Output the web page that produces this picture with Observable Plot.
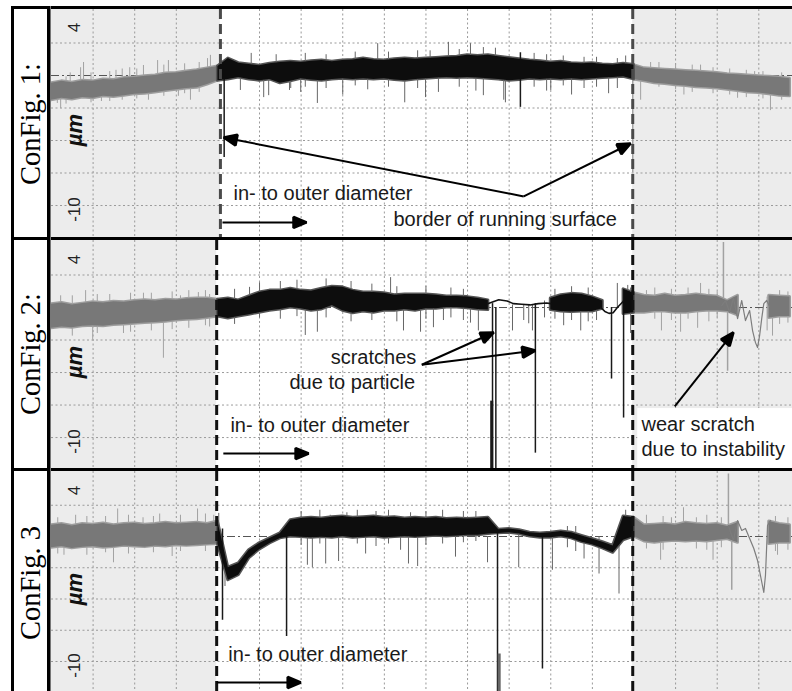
<!DOCTYPE html>
<html><head><meta charset="utf-8">
<script src="https://cdn.jsdelivr.net/npm/d3@7"></script>
<script src="https://cdn.jsdelivr.net/npm/@observablehq/plot@0.6"></script>
<style>
html,body{margin:0;padding:0;background:#fff;}
#root{position:relative;width:792px;height:691px;overflow:hidden;background:#fff;}
.panel{position:absolute;left:51px;}
.ln{position:absolute;background:#000;z-index:5;}
.lab{position:absolute;font-family:"Liberation Serif","Times New Roman",serif;font-size:28.5px;white-space:nowrap;transform:translate(-50%,-50%) rotate(-90deg);color:#000;line-height:1;}
</style></head><body><div id="root"></div>
<script>
// ---- sampling positions along the radius (grid units) ----
const G = [0,0.25,0.5,0.75,1,1.25,1.5,1.75,2,2.25,2.5,2.75,3,3.25,3.5,3.75,4,4.25,4.5,4.75,5,5.25,5.5,5.75,6,6.25,6.5,6.75,7,7.25,7.5,7.75,8,8.25,8.5,8.75,9,9.25,9.5,9.75,10,10.25,10.5,10.75,11,11.25,11.5,11.75,12,12.25,12.5,12.75,13,13.25,13.5,13.75,14,14.25,14.5,14.75,15,15.25,15.5,15.75,16,16.25,16.5,16.75,17,17.25,17.5,17.75];

const panelLabels = ["ConFig. 1:", "ConFig. 2:", "ConFig. 3"];
const yTickLabels = [4, -10];
const unitLabel = "\u00b5m";

// ---- ConFig. 1 ----
const p1Hi = [-0.6,-0.45,-0.55,-0.4,-0.45,-0.3,-0.35,-0.2,-0.15,-0.05,0.0,0.15,0.2,0.3,0.4,0.55,0.7, 1.3,0.95,0.85,0.75,0.9,1.0,1.05,1.0,1.1,1.15,1.05,1.15,1.2,1.3,1.2,1.15,1.25,1.3,1.25,1.3,1.35,1.4,1.45,1.55,1.5,1.55,1.45,1.35,1.25,1.15,1.1,1.0,1.05,0.95,0.9,0.95,0.85,0.8,0.9, 0.8,0.55,0.5,0.45,0.4,0.35,0.3,0.25,0.2,0.1,0.05,0.0,-0.05,-0.1,-0.15,-0.25];
const p1Lo = [-1.9,-1.75,-1.85,-1.7,-1.75,-1.6,-1.65,-1.55,-1.45,-1.4,-1.3,-1.2,-1.1,-1.0,-0.95,-0.7,-0.4, -0.3,-0.15,-0.3,-0.4,-0.3,-0.6,-0.45,-0.25,-0.35,-0.4,-0.3,-0.25,-0.3,-0.25,-0.3,-0.25,-0.35,-0.4,-0.3,-0.25,-0.2,-0.15,-0.2,-0.15,-0.2,-0.25,-0.3,-0.4,-0.35,-0.25,-0.3,-0.25,-0.3,-0.25,-0.3,-0.25,-0.2,-0.15,-0.1, -0.3,-0.45,-0.6,-0.65,-0.75,-0.8,-0.9,-0.95,-1.0,-1.1,-1.2,-1.3,-1.35,-1.45,-1.55,-1.6];
const p1Spikes = [[0.14,-1.0,-2.15],[0.22,-1.2,-2.55],[0.35,-0.1,-2.2],[0.45,0.2,-1.0],[0.70,0.6,-0.8],[0.77,1.0,-0.8],[0.95,0.2,-2.1],[1.2,-0.6,-2.0],[1.4,0.3,-2.0],[1.55,0.4,-0.5],[1.7,0.5,-1.9],[1.88,0.6,-0.6],[2.05,0.5,-1.8],[2.21,0.77,-0.5],[2.33,-0.5,-1.9],[2.55,1.15,-0.5],[2.7,0.8,-1.6],[2.81,1.15,-0.3],[3.05,-0.3,-1.6],[3.2,0.9,-1.4],[3.34,-0.5,-1.9],[3.55,1.0,-1.3],[3.75,1.3,0],[3.82,1.55,0],
 [4.15,0.0,-6.3],[4.54,0,-1.15],[4.8,1.7,0],[5.10,0,-1.7],[5.22,0,-1.55],[5.4,1.6,0],[5.72,0,-1.15],[5.75,0,-1.0],[5.99,0,-1.3],[6.1,1.7,-0.9],[6.39,0,-2.15],[6.6,1.6,-1.0],[7.0,0,-1.5],[7.3,1.8,-0.8],[7.6,0,-1.1],[7.84,2.45,0],[8.1,1.8,-0.9],[8.49,0,-2.1],[8.8,1.9,-1.0],[8.99,0,-1.7],[9.1,1.9,0],[9.3,0,-1.3],[9.54,2.55,0],[9.8,2.0,-0.9],[10.07,2.45,0],[10.2,0,-1.2],[10.38,2.15,-1.55],[10.67,2.1,0],[10.87,0,-1.9],[10.91,0,-2.1],[11.27,1.75,-2.45],[11.6,1.7,-0.9],[11.9,1.6,-1.2],[12.0,0,-1.15],[12.3,1.5,-0.8],[12.5,0,-1.5],[12.8,1.4,-1.0],[13.1,1.4,-0.9],[13.39,0,-1.4],[13.6,1.3,-1.0],[13.8,1.5,0],[13.97,0,-7.5],
 [14.16,-0.3,-1.9],[14.4,1.0,0],[14.6,1.0,-0.9],[15.0,0.9,-1.1],[15.2,-0.4,-1.5],[15.4,0.8,-1.3],[15.6,0.8,-0.2],[15.9,0.6,-1.4],[16.3,0.5,-1.5],[16.49,-0.5,-1.75],[16.7,0.4,-1.7],[16.9,0.3,-0.8],[17.1,0.3,-1.8],[17.28,-0.7,-2.7],[17.55,0.2,-1.9]];
const p1Traces = [];
const p1Borders = [4.06, 13.97];
const p1Notes = [{text:"in- to outer diameter", g:4.375, v:-9.08},{text:"border of running surface", g:8.22, v:-11.08}];
const p1Arrows = [[4.11,-11.3,6.13,-11.3],[11.35,-9.3,4.14,-4.77],[11.35,-9.3,13.92,-5.23]];

// ---- ConFig. 2 ----
const p2Hi = [0.25,0.35,0.2,0.3,0.4,0.35,0.45,0.4,0.5,0.55,0.5,0.6,0.55,0.65,0.7,0.7,0.6, 0.7,0.55,0.85,1.15,1.3,1.3,1.45,1.3,1.25,1.45,1.6,1.55,1.3,1.15,1.15,1.1,0.95,1.0,1.0,1.0,0.95,0.85,0.85,0.8,0.7,0.55, null,null,null,null,null, 0.7,0.95,1.05,1.0,0.8,0.5, null, 1.4, 1.1, 0.9,0.85,1.0,0.85,0.9,1.0,0.9,0.85, 0.5,0.9, null,null, 0.9,0.85,0.8];
const p2Lo = [-1.6,-1.5,-1.55,-1.45,-1.4,-1.45,-1.35,-1.3,-1.25,-1.2,-1.15,-1.1,-1.0,-0.95,-0.9,-0.8,-0.7, -0.85,-0.7,-0.55,-0.4,-0.25,-0.15,0.0,-0.1,-0.25,-0.15,0.15,-0.25,-0.45,-0.3,-0.4,-0.25,-0.25,-0.15,-0.25,-0.1,-0.1,0.0,0.0,-0.05,-0.15,-0.2, null,null,null,null,null, -0.2,-0.3,-0.35,-0.3,-0.3,-0.1, null, -0.5, -0.4, -0.4,-0.3,-0.3,-0.4,-0.4,-0.3,-0.25,-0.25, -0.3,-0.6, null,null, -0.8,-0.7,-0.7];
const p2Spikes = [[0.22,0.9,-1.2],[0.5,0.9,-2.2],[0.82,1.3,0],[0.99,-0.5,-2.5],[1.1,1.0,-2.0],[1.4,1.0,-0.5],[1.73,-0.5,-2.0],[1.9,1.1,-1.9],[2.21,1.1,0],[2.4,1.1,-1.8],[2.69,-0.5,-3.9],[2.9,1.2,-1.7],[3.1,0.9,0],[3.3,1.3,-1.6],[3.53,1.15,0],[3.7,1.3,-1.4],[3.8,1.0,-1.5],
 [4.4,1.4,-1.3],[4.76,1.55,0],[5.0,1.9,-0.8],[5.5,2.0,-0.9],[5.9,2.1,-0.7],[6.1,0,-2.15],[6.39,0,-1.9],[6.6,2.2,-0.8],[7.2,2.0,-1.1],[7.7,1.8,-1.0],[8.15,2.3,0],[8.3,1.6,-1.1],[8.46,0,-1.8],[8.87,0,-1.9],[9.0,1.6,-0.9],[9.18,0,-1.55],[9.42,0,-1.0],[9.6,1.5,-0.8],[9.9,1.4,-1.0],[10.07,0,-1.2],[10.26,0,-1.8],[10.6,0.3,-12.4],[10.58,-7.2,-12.4],[10.68,0.0,-12.4],[11.08,0.2,-1.8],[11.35,0.2,-1.0],[11.47,0.2,-1.25],[11.56,0.2,-1.8],[11.63,0.3,-11.2],[11.85,0.5,-0.8],[12.1,1.4,-0.9],[12.31,0,-1.4],[12.5,1.6,-1.0],[12.72,0,-1.8],[12.9,1.5,-1.1],[13.1,0,-1.0],[13.46,0,-5.5],[13.6,1.85,0],[13.75,0.5,-8.5],[13.85,1.7,0],[13.92,1.5,-2.0],
 [14.3,1.3,0],[14.5,1.5,-0.9],[14.66,-0.2,-1.8],[14.9,1.4,-1.0],[15.12,0,-1.9],[15.3,1.5,-0.9],[15.53,-0.2,-1.6],[15.6,1.85,0],[15.8,1.4,-1.1],[16.0,1.2,-0.8],[16.15,5.0,-0.3],[16.25,0.5,-4.9],[17.2,0.8,-1.8],[17.33,-0.2,-2.2],[17.5,1.3,-1.3],[17.7,1.2,-1.2]];
const p2Traces = [
 [[10.5,0.3],[10.75,0.6],[10.95,0.5],[11.1,0.3],[11.3,0.25],[11.5,0.2],[11.7,0.3],[11.9,0.35],[12.0,0.3]],
 [[13.2,0.0],[13.3,-0.3],[13.4,-0.45],[13.5,-0.4],[13.6,0.0],[13.75,0.5]],
 [[16.11,0.15],[16.2,0.54],[16.3,-0.38],[16.39,0.77],[16.49,-0.85],[16.59,0.54],[16.68,-1.0],[16.78,-0.23],[16.85,-1.77],[16.92,-2.7],[16.97,-3.08],[17.02,-2.15],[17.07,-0.85],[17.12,0.3],[17.19,0.54],[17.26,0.08]]];
const p2Borders = [3.97, 13.97];
const p2Notes = [{text:"scratches", g:6.71, v:-3.85},{text:"due to particle", g:5.72, v:-5.75},{text:"in- to outer diameter", g:4.3, v:-9.08},{text:"wear scratch", g:14.18, v:-9.0},{text:"due to instability", g:14.18, v:-10.9}];
const p2Arrows = [[8.9,-4.4,10.63,-1.92],[8.9,-4.4,11.63,-3.31],[4.13,-11.23,6.18,-11.23],[14.98,-7.6,16.39,-1.92]];
const p2Box = [[14.09, 17.81, -7.77, -12.38]];

// ---- ConFig. 3 ----
const p3Hi = [0.9,1.0,0.85,1.0,0.95,1.05,0.9,1.0,1.05,0.95,1.0,1.1,1.0,1.05,1.1,1.0,1.2, -2.5,-2.15,-1.1,-0.55,-0.15,0.25,1.3, 1.45,1.5,1.45,1.55,1.6,1.5,1.55,1.6,1.5,1.55,1.45,1.5,1.45,1.5,1.4,1.45,1.4,1.45,1.5, 0.55,0.6,0.5, 0.3,0.25,0.3,0.4,0.3,0.05,-0.2,-0.45,-0.75,1.6, 1.5, 0.9,0.95,1.0,0.9,1.1,1.0,0.95,1.0, 0.8,1.1, null,null, 1.2,1.0,0.9];
const p3Lo = [-0.9,-0.8,-0.95,-0.85,-0.8,-0.9,-0.85,-0.75,-0.8,-0.85,-0.75,-0.8,-0.7,-0.75,-0.7,-0.65,-0.6, -3.5,-3.1,-1.75,-1.05,-0.55,-0.15,0.0, -0.05,-0.1,-0.05,-0.1,0.0,-0.1,-0.05,0.0,-0.1,-0.05,0.0,-0.05,0.0,0.05,0.0,0.05,0.1,0.1,0.2, 0.25,0.3,0.2, 0.0,-0.1,-0.1,0.0,-0.15,-0.45,-0.65,-0.95,-1.3,-0.3, 0.0, -0.4,-0.5,-0.4,-0.35,-0.4,-0.35,-0.4,-0.3, -0.2,-0.5, null,null, -0.6,-0.5,-0.5];
const p3Spikes = [[0.15,1.5,-1.4],[0.3,0.3,-1.5],[0.58,1.7,0],[0.85,1.6,-1.5],[1.3,1.6,-1.3],[1.49,0,-2.1],[1.59,2.2,0],[1.85,1.7,-1.4],[2.2,1.5,-0.5],[2.45,1.6,-1.3],[2.6,1.8,0],[2.9,0,-1.6],[3.1,1.7,-1.2],[3.51,2.2,0],[3.7,1.8,-1.2],[3.9,1.7,0],
 [4.02,1.85,-0.3],[4.11,0.6,-6.7],[4.17,-2.0,-4.0],[5.65,0.3,-8.0],[6.0,2.0,-0.7],[6.15,0,-2.3],[6.27,0,-2.5],[6.45,2.1,-0.6],[6.59,0,-2.2],[6.7,1.7,0],[6.9,0,-2.0],[7.1,1.9,0],[7.35,2.1,-0.6],[7.55,0,-1.4],[7.8,2.0,-0.8],[8.1,2.1,-0.6],[8.39,0,-1.1],[8.58,0,-2.2],[8.63,1.9,0],[8.8,0,-2.4],[9.0,2.0,-0.7],[9.4,2.1,-0.6],[9.71,0,-1.65],[9.9,2.0,-0.5],[10.2,2.0,-0.4],[10.48,0,-2.1],[10.72,0.5,-12.4],[10.76,-9.4,-12.4],[11.23,0.3,-2.5],[11.8,0.2,-10.6],[12.04,0,-2.7],[12.4,0.8,-0.9],[12.6,0.8,-1.2],[12.8,0,-1.8],[13.16,0,-3.0],[13.64,-0.8,-4.6],[13.8,2.1,0],[13.97,0.3,-7.7],
 [14.3,1.7,-1.0],[14.64,0,-1.9],[14.7,1.6,-1.1],[14.9,1.5,0],[15.19,2.3,0],[15.5,1.5,-1.0],[15.75,1.7,-1.1],[15.9,0,-1.9],[16.1,1.5,-0.9],[16.27,5.0,0],[16.35,0,-4.3],[17.4,1.6,-1.2],[17.45,0,-1.5],[17.7,1.5,-1.1]];
const p3Traces = [
 [[16.27,0.88],[16.39,-0.32],[16.49,1.28],[16.59,0.48],[16.68,0.64],[16.78,-0.16],[16.88,-0.96],[16.97,-1.92],[17.04,-3.12],[17.12,-4.48],[17.16,-3.12],[17.21,0.88],[17.28,1.28]]];
const p3Borders = [3.97, 13.97];
const p3Notes = [{text:"in- to outer diameter", g:4.25, v:-9.44}];
const p3Arrows = [[3.97,-11.68,5.99,-11.68]];

const gridX = [1,2,3,5,6,7,8,9,10,11,12,13,15,16,17];
const gridY = [2.5,-2.5,-5,-7.5,-10];
const X_MAX = 17.81;

// ---- layout ----
const root = document.getElementById("root");
const panels = [
  {top: 9,   height: 228, y: [-12.46, 5.077], hi: p1Hi, lo: p1Lo, spikes: p1Spikes, traces: p1Traces, borders: p1Borders, notes: p1Notes, arrows: p1Arrows, box: [], borderColor: "#4a4a4a", label: panelLabels[0], labelY: 124},
  {top: 240, height: 228, y: [-12.38, 5.154], hi: p2Hi, lo: p2Lo, spikes: p2Spikes, traces: p2Traces, borders: p2Borders, notes: p2Notes, arrows: p2Arrows, box: p2Box, borderColor: "#111", label: panelLabels[1], labelY: 354},
  {top: 471, height: 220, y: [-12.4, 5.2],    hi: p3Hi, lo: p3Lo, spikes: p3Spikes, traces: p3Traces, borders: p3Borders, notes: p3Notes, arrows: p3Arrows, box: [], borderColor: "#111", label: panelLabels[2], labelY: 583}
];

const SVGNS = "http://www.w3.org/2000/svg";
function solidHead(color, context) {
  const doc = (context && context.document) || document;
  const m = doc.createElementNS(SVGNS, "marker");
  m.setAttribute("viewBox", "-10 -5 10 10");
  m.setAttribute("markerWidth", "6.5");
  m.setAttribute("markerHeight", "6.5");
  m.setAttribute("orient", "auto");
  m.setAttribute("overflow", "visible");
  const p = doc.createElementNS(SVGNS, "path");
  p.setAttribute("d", "M-10,-4.2L0,0L-10,4.2Z");
  p.setAttribute("fill", color);
  m.appendChild(p);
  return m;
}

function build(cfg, marker) {
  const rows = G.map((g, i) => ({g, i, hi: cfg.hi[i], lo: cfg.lo[i]}));
  const [b0, b1] = cfg.borders;
  const inside = g => g > b0 && g < b1;
  const spikeRows = cfg.spikes.map(([g, t, b]) => ({g, t, b}));
  const spikeColor = d => inside(d.g) ? ((d.t - d.b > 4) ? "#1a1a1a" : "#666") : "#a2a2a2";
  const spikeWidth = d => (d.t < -5) ? 3 : (d.t - d.b > 4 ? 1.5 : 1);
  const traceRows = cfg.traces.flatMap((tr, k) => tr.map(([g, v]) => ({k, g, v, c: inside(tr[0][0]) ? "#111" : "#7d7d7d"})));
  const shade = [[0, b0], [b1, X_MAX]];
  const [y0, y1] = cfg.y;
  const outerL = d => d.i <= 16, outerR = d => d.i >= 56, mid = d => d.i >= 16 && d.i <= 56;
  return Plot.plot({
    width: 741, height: cfg.height, margin: 0,
    x: {domain: [0, X_MAX], axis: null},
    y: {domain: cfg.y, axis: null},
    style: {background: "transparent", fontFamily: "'Liberation Sans', Arial, Helvetica, sans-serif", overflow: "visible"},
    marks: [
      Plot.rect(shade, {x1: d => d[0], x2: d => d[1], y1: y0, y2: y1, fill: "#ececec"}),
      Plot.ruleX(gridX, {stroke: "#9a9a9a", strokeDasharray: "2,2.5", strokeWidth: 1}),
      Plot.ruleY(gridY, {stroke: "#9a9a9a", strokeDasharray: "2,2.5", strokeWidth: 1}),
      Plot.ruleY([0], {stroke: "#555", strokeDasharray: "8,3,2,3", strokeWidth: 1}),
      Plot.rect(cfg.box, {x1: d => d[0], x2: d => d[1], y1: d => d[2], y2: d => d[3], fill: "white"}),
      // fuzzy halo of the grey (outside) profile
      Plot.areaY(rows, {filter: outerL, x: "g", y1: "lo", y2: "hi", fill: "#9e9e9e", stroke: "#9e9e9e", strokeWidth: 3, strokeLinejoin: "round"}),
      Plot.areaY(rows, {filter: outerR, x: "g", y1: "lo", y2: "hi", fill: "#9e9e9e", stroke: "#9e9e9e", strokeWidth: 3, strokeLinejoin: "round"}),
      Plot.ruleX(spikeRows, {filter: d => !inside(d.g), x: "g", y1: "t", y2: "b", stroke: spikeColor, strokeWidth: spikeWidth}),
      Plot.areaY(rows, {filter: outerL, x: "g", y1: "lo", y2: "hi", fill: "#787878"}),
      Plot.areaY(rows, {filter: outerR, x: "g", y1: "lo", y2: "hi", fill: "#787878"}),
      Plot.line(traceRows, {filter: d => d.c !== "#111", x: "g", y: "v", z: "k", stroke: "c", strokeWidth: 1.2}),
      // running surface profile (black)
      Plot.areaY(rows, {filter: mid, x: "g", y1: "lo", y2: "hi", fill: "#555", stroke: "#555", strokeWidth: 3, strokeLinejoin: "round"}),
      Plot.ruleX(spikeRows, {filter: d => inside(d.g), x: "g", y1: "t", y2: "b", stroke: spikeColor, strokeWidth: spikeWidth}),
      Plot.areaY(rows, {filter: mid, x: "g", y1: "lo", y2: "hi", fill: "#0d0d0d"}),
      Plot.line(traceRows, {filter: d => d.c === "#111", x: "g", y: "v", z: "k", stroke: "c", strokeWidth: 1.6}),
      Plot.ruleX(cfg.borders, {stroke: cfg.borderColor, strokeWidth: 3, strokeDasharray: "10,5"}),
      Plot.link(cfg.arrows, {x1: d => d[0], y1: d => d[1], x2: d => d[2], y2: d => d[3], stroke: "#000", strokeWidth: 2, markerEnd: marker}),
      Plot.text(cfg.notes, {x: "g", y: "v", text: "text", textAnchor: "start", fontSize: 20, fill: "#1a1a1a"}),
      Plot.text(yTickLabels, {x: 0.55, y: d => d, text: d => String(d), rotate: -90, fontSize: 17, dy: 4, fill: "#222"}),
      Plot.text([unitLabel], {x: 0.56, y: -4.2, text: d => d, rotate: -90, fontSize: 22, fontWeight: "bold", fontStyle: "italic", fill: "#111"})
    ]
  });
}

panels.forEach(cfg => {
  let svg;
  try { svg = build(cfg, solidHead); } catch (e) { svg = build(cfg, "arrow"); }
  const wrap = document.createElement("div");
  wrap.className = "panel";
  wrap.style.top = cfg.top + "px";
  wrap.style.height = cfg.height + "px";
  wrap.style.overflow = "hidden";
  wrap.appendChild(svg);
  root.appendChild(wrap);
  const lab = document.createElement("div");
  lab.className = "lab";
  lab.style.left = "31px";
  lab.style.top = cfg.labelY + "px";
  lab.textContent = cfg.label;
  root.appendChild(lab);
});

// table frame lines
[[11,6,781,3],[11,237,781,3],[11,468,781,3],[11,6,3,685],[47,6,2.5,685]].forEach(([l,t,w,h]) => {
  const d = document.createElement("div");
  d.className = "ln";
  Object.assign(d.style, {left: l + "px", top: t + "px", width: w + "px", height: h + "px"});
  root.appendChild(d);
});
const thin = document.createElement("div");
thin.className = "ln";
Object.assign(thin.style, {left: "50px", top: "6px", width: "1px", height: "685px", background: "#777"});
root.appendChild(thin);
</script></body></html>
